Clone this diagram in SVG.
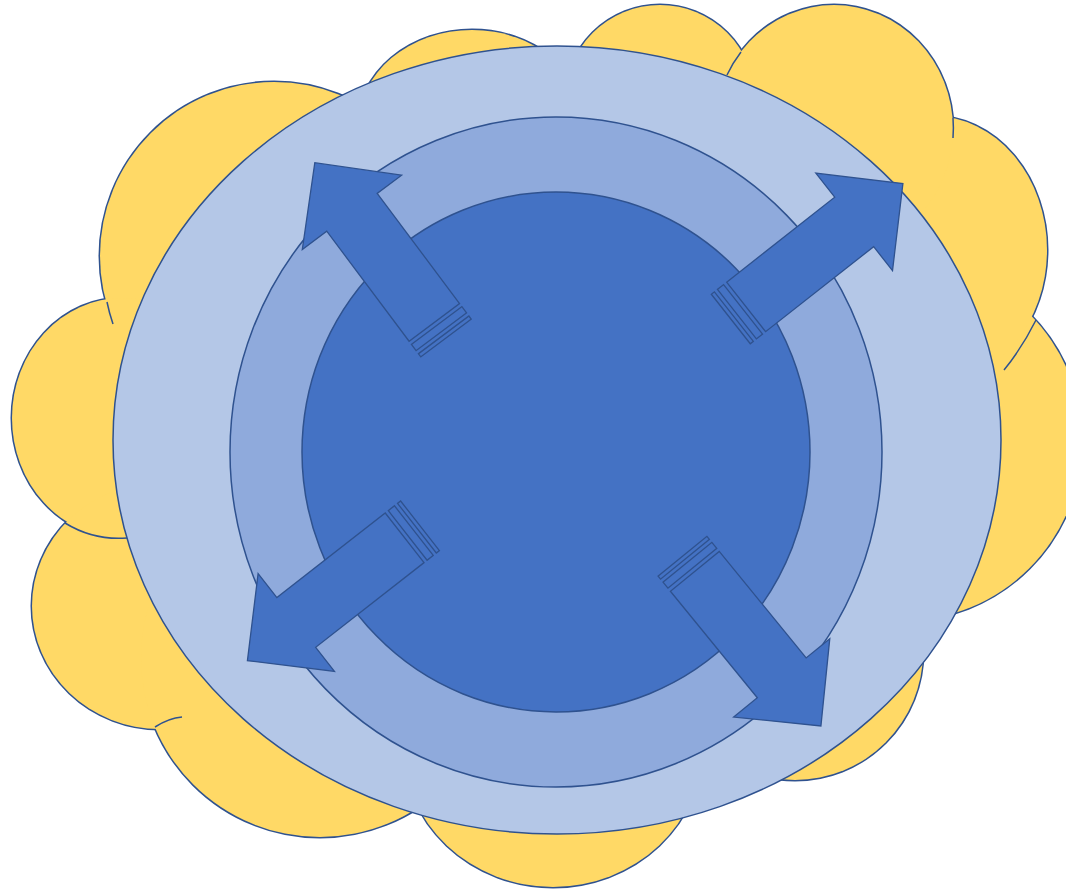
<svg xmlns="http://www.w3.org/2000/svg" xmlns:xlink="http://www.w3.org/1999/xlink" width="1066" height="893" viewBox="0 0 1066 893">
<style>
.ol{stroke:#2F528F;stroke-width:1.5}
.tick{fill:none;stroke:#2F528F;stroke-width:1.5}
.arrow{fill:#4472C4;stroke:#2F528F;stroke-width:1.3;stroke-linejoin:miter}
</style>
<defs>
<g id="bumps">
<circle cx="274" cy="256" r="174"/>
<ellipse cx="122" cy="418" rx="110" ry="120"/>
<ellipse cx="160" cy="606" rx="128" ry="123"/>
<circle cx="320" cy="658" r="179"/>
<ellipse cx="553" cy="745" rx="150" ry="142"/>
<circle cx="795" cy="652" r="128"/>
<circle cx="902" cy="441" r="180"/>
<ellipse cx="933" cy="250" rx="114" ry="134"/>
<ellipse cx="834" cy="129" rx="119" ry="124"/>
<circle cx="660" cy="100" r="95"/>
<ellipse cx="472" cy="126" rx="114" ry="96"/>
<ellipse cx="557" cy="440" rx="400" ry="350"/>
</g>
<g id="arrowShape">
<rect x="0" y="-31.5" width="3.9" height="63"/>
<rect x="7.8" y="-31.5" width="7.8" height="63"/>
<path d="M19.5,-31.5 L157,-31.5 L157,-62 L219,0 L157,62 L157,31.5 L19.5,31.5 Z"/>
</g>
</defs>
<g id="cloud">
<use xlink:href="#bumps" href="#bumps" fill="#FFD966" stroke="#2F528F" stroke-width="3"/>
<use xlink:href="#bumps" href="#bumps" fill="#FFD966"/>
<path class="tick" d="M107,302 A174,174 0 0 0 113,324"/>
<path class="tick" d="M65,523 A110,120 0 0 0 127,538"/>
<path class="tick" d="M155,727 Q169,718 182,717"/>
<path class="tick" d="M741,52 A119,124 0 0 0 727,75"/>
<path class="tick" d="M953,118 A119,124 0 0 1 953,138"/>
<path class="tick" d="M1036,320 Q1022,348 1004,370"/>
</g>
<g id="outer-ring">
<ellipse class="ol" cx="557" cy="440" rx="444" ry="394" fill="#B4C7E7"/>
</g>
<g id="middle-ring">
<ellipse class="ol" cx="556" cy="452" rx="326" ry="335" fill="#8FAADC"/>
</g>
<g id="core">
<ellipse class="ol" cx="556" cy="452" rx="254" ry="260" fill="#4472C4"/>
</g>
<g id="connectors">
<g id="arrow-nw" transform="translate(446,338) rotate(-126.8)"><use xlink:href="#arrowShape" href="#arrowShape" class="arrow"/></g>
<g id="arrow-ne" transform="translate(730.8,319) rotate(-38.2)"><use xlink:href="#arrowShape" href="#arrowShape" class="arrow"/></g>
<g id="arrow-sw" transform="translate(420,525.8) rotate(142)"><use xlink:href="#arrowShape" href="#arrowShape" class="arrow"/></g>
<g id="arrow-se" transform="translate(682.5,556.2) rotate(50.8)"><use xlink:href="#arrowShape" href="#arrowShape" class="arrow"/></g>
</g>
</svg>
